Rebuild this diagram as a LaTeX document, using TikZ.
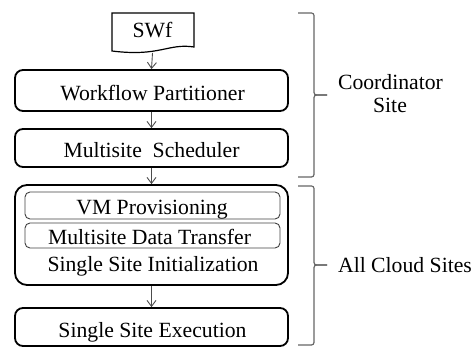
\documentclass[tikz,border=0pt]{standalone}
\usepackage{fontspec}
\setmainfont{Liberation Serif}
\usetikzlibrary{arrows.meta}
\begin{document}
\begin{tikzpicture}[x=1pt,y=-1pt,
  box/.style={draw=black, line width=1.8pt, rounded corners=8pt, minimum width=273pt, inner sep=0pt},
  inbox/.style={draw=black!75, line width=0.9pt, rounded corners=5pt, minimum width=255pt, inner sep=0pt},
  lbl/.style={font=\fontsize{21.7}{26}\selectfont, anchor=base, inner sep=0pt, text=black},
  arr/.style={draw=black!70, line width=0.9pt, -{Straight Barb[length=6pt,width=9pt]}},
  brc/.style={draw=black!60, line width=1.2pt, rounded corners=2.5pt}]
\useasboundingbox (0,0) rectangle (472,347);
% SWf document
\draw[line width=1.2pt] (112,13) -- (194,13) -- (194,47) .. controls (168,43) and (160,57) .. (112,51) -- cycle;
\node[lbl] (swf) at (152.5,38) {SWf};
\coordinate (swfb) at (152.5,53);
% boxes
\node[box, minimum height=41pt] (wp) at (151.5,90.5) {};
\node[lbl] (wpt) at (152.5,101) {Workflow Partitioner};
\node[box, minimum height=38pt] (ms) at (151.5,148) {};
\node[lbl] (mst) at (151.5,158) {Multisite\ \ Scheduler};
\node[box, minimum height=100pt, rounded corners=12pt] (cs) at (151.5,235) {};
\node[inbox, minimum height=27pt] (vm) at (152.5,205.5) {};
\node[lbl] (vmt) at (152,215) {VM Provisioning};
\node[inbox, minimum height=25pt] (dt) at (152.5,235.5) {};
\node[lbl] (dtt) at (149.5,245) {Multisite Data Transfer};
\node[lbl] (sit) at (153,272) {Single Site Initialization};
\node[box, minimum height=38pt] (ex) at (151.5,327) {};
\node[lbl] (ext) at (152.5,338) {Single Site Execution};
% arrows
\draw[arr] (swfb) -- (wp.north);
\draw[arr] (wp.south) -- (ms.north);
\draw[arr] (ms.south) -- (cs.north);
\draw[arr] (cs.south) -- (ex.north);
% braces
\draw[brc] (298,13) -| (314,95) -- (327,95);
\draw[brc] (327,95) -- (314,95) |- (298,177);
\draw[brc] (298,186) -| (314,265) -- (327,265);
\draw[brc] (327,265) -- (314,265) |- (298,345);
% right labels
\node[lbl] (co) at (390.5,90) {Coordinator};
\node[lbl] (si) at (390,113) {Site};
\node[lbl] (ac) at (405,273) {All Cloud Sites};
\end{tikzpicture}
\end{document}
